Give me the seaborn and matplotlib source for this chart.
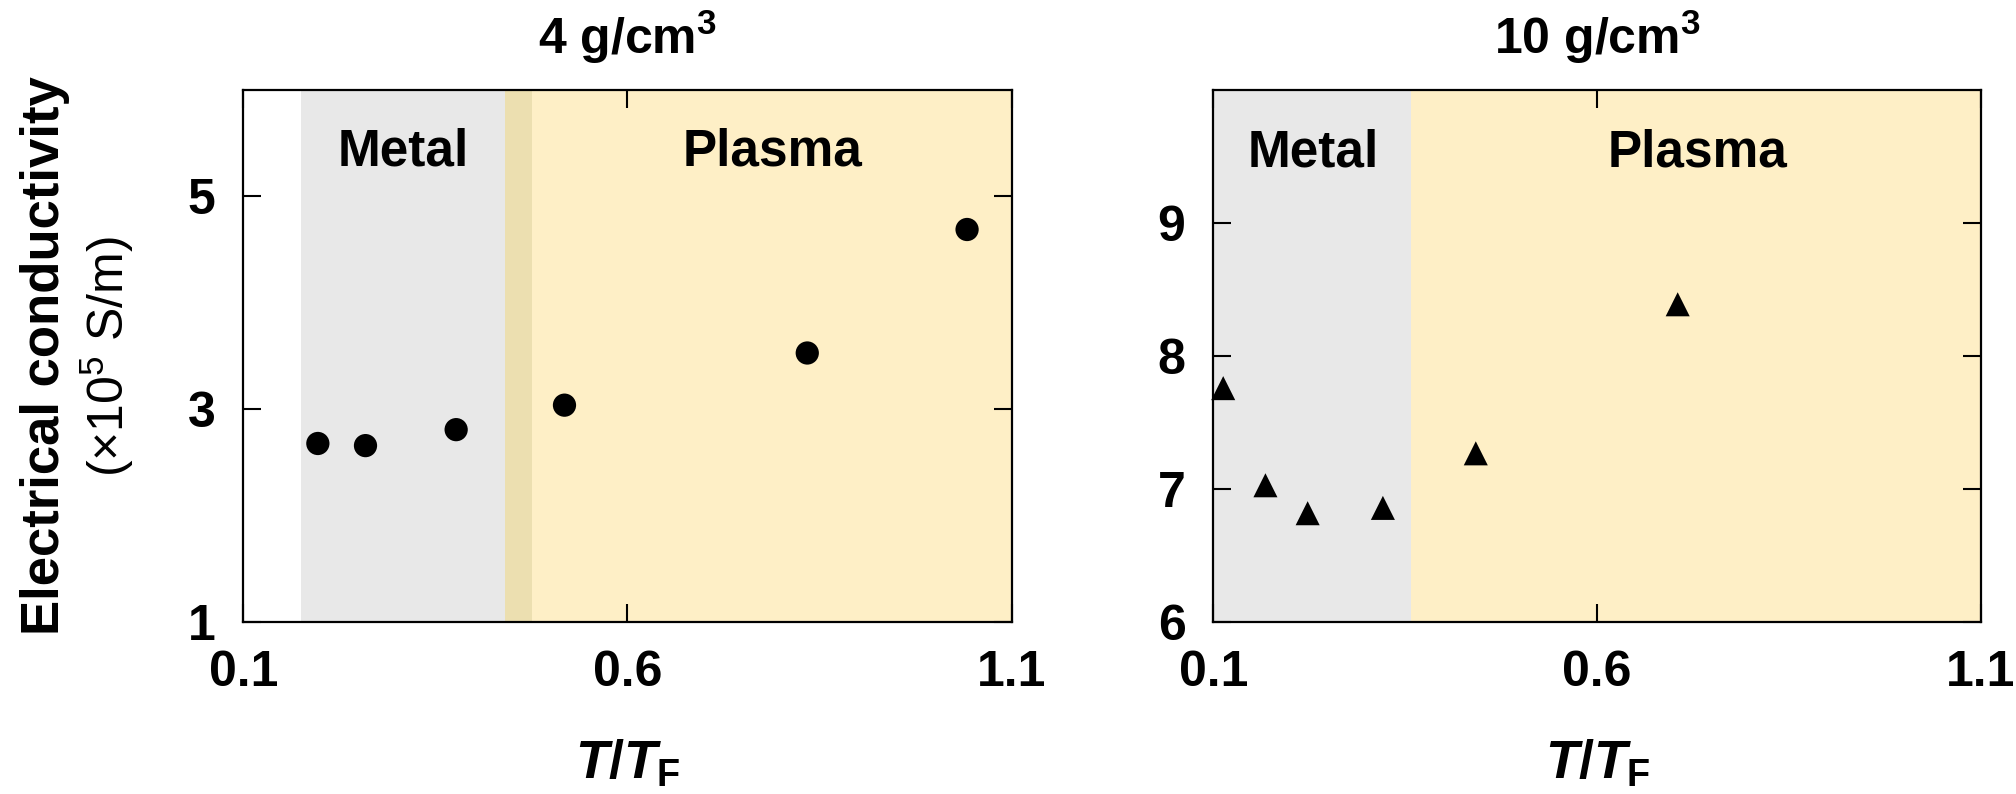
import pandas as pd
import seaborn as sns
import matplotlib.pyplot as plt

# 4 g/cm3 panel (circles)
t_4 = [0.197, 0.259, 0.377, 0.518, 0.834, 1.042]
sigma_4 = [2.68, 2.66, 2.81, 3.04, 3.53, 4.69]
# 10 g/cm3 panel (triangles)
t_10 = [0.113, 0.168, 0.223, 0.321, 0.442, 0.705]
sigma_10 = [7.76, 7.03, 6.82, 6.86, 7.27, 8.39]

# phase regions (T/T_F)
metal_4 = (0.175, 0.441)
overlap_4 = (0.441, 0.476)
plasma_4 = (0.476, 1.1)
metal_10 = (0.1, 0.358)
plasma_10 = (0.358, 1.1)

titles = ['4 g/cm$\\mathregular{^3}$', '10 g/cm$\\mathregular{^3}$']
x_ticks = [0.1, 0.6, 1.1]
y_ticks_4 = [1, 3, 5]
y_ticks_10 = [6, 7, 8, 9]

sns.set_style('ticks')
plt.rcParams['font.family'] = ['Liberation Sans', 'DejaVu Sans']
plt.rcParams['mathtext.fontset'] = 'custom'
plt.rcParams['mathtext.rm'] = 'Liberation Sans:bold'
plt.rcParams['mathtext.it'] = 'Liberation Sans:italic:bold'
plt.rcParams['mathtext.bf'] = 'Liberation Sans:bold'
plt.rcParams['text.color'] = 'black'
plt.rcParams['axes.labelcolor'] = 'black'
plt.rcParams['xtick.color'] = 'black'
plt.rcParams['ytick.color'] = 'black'

gray = '#e8e8e8'
yellow = '#feefc6'
mixed = '#ecdfb0'

fig = plt.figure(figsize=(20.16, 7.94), dpi=100)
ax1 = fig.add_axes([0.1207, 0.2162, 0.3811, 0.6704])
ax2 = fig.add_axes([0.6018, 0.2162, 0.3808, 0.6704])

df4 = pd.DataFrame({'t': t_4, 'sigma': sigma_4})
df10 = pd.DataFrame({'t': t_10, 'sigma': sigma_10})

# left panel
ax1.axvspan(*metal_4, color=gray, lw=0, zorder=0)
ax1.axvspan(*overlap_4, color=mixed, lw=0, zorder=0)
ax1.axvspan(*plasma_4, color=yellow, lw=0, zorder=0)
sns.scatterplot(data=df4, x='t', y='sigma', ax=ax1, marker='o', s=280,
                color='black', edgecolor='none', zorder=3, clip_on=False)
ax1.set_ylim(1, 6)
ax1.set_yticks(y_ticks_4)
ax1.text(0.308, 5.42, 'Metal', ha='center', va='center', fontsize=37, fontweight='bold')
ax1.text(0.789, 5.42, 'Plasma', ha='center', va='center', fontsize=37, fontweight='bold')

# right panel
ax2.axvspan(*metal_10, color=gray, lw=0, zorder=0)
ax2.axvspan(*plasma_10, color=yellow, lw=0, zorder=0)
sns.scatterplot(data=df10, x='t', y='sigma', ax=ax2, marker='^', s=300,
                color='black', edgecolor='none', zorder=3, clip_on=False)
ax2.set_ylim(6, 10)
ax2.set_yticks(y_ticks_10)
ax2.text(0.230, 9.53, 'Metal', ha='center', va='center', fontsize=37, fontweight='bold')
ax2.text(0.731, 9.53, 'Plasma', ha='center', va='center', fontsize=37, fontweight='bold')

for ax, title in zip([ax1, ax2], titles):
    ax.set_xlim(0.1, 1.1)
    ax.set_xticks(x_ticks)
    ax.set_xticklabels(['0.1', '0.6', '1.1'])
    ax.tick_params(direction='in', length=13, width=1.5, top=True, right=True,
                   labelsize=36, pad=20, colors='black')
    for lab in ax.get_xticklabels() + ax.get_yticklabels():
        lab.set_fontweight('bold')
    for sp in ax.spines.values():
        sp.set_visible(True)
        sp.set_linewidth(1.6)
        sp.set_color('black')
    ax.set_title(title, fontsize=36, fontweight='bold', pad=26, color='black')
    ax.set_xlabel('$T/T_\\mathrm{F}$', fontsize=39, labelpad=30, color='black')
    ax.set_ylabel('')

fig.text(0.0223, 0.5516, 'Electrical conductivity', rotation=90, ha='center', va='center',
         fontsize=38, fontweight='bold', color='black')
fig.text(0.0531, 0.5516, '(\u00d710$\\mathregular{^5}$ S/m)', rotation=90, ha='center', va='center',
         fontsize=36, color='black')

plt.savefig('out.png', dpi=100)
